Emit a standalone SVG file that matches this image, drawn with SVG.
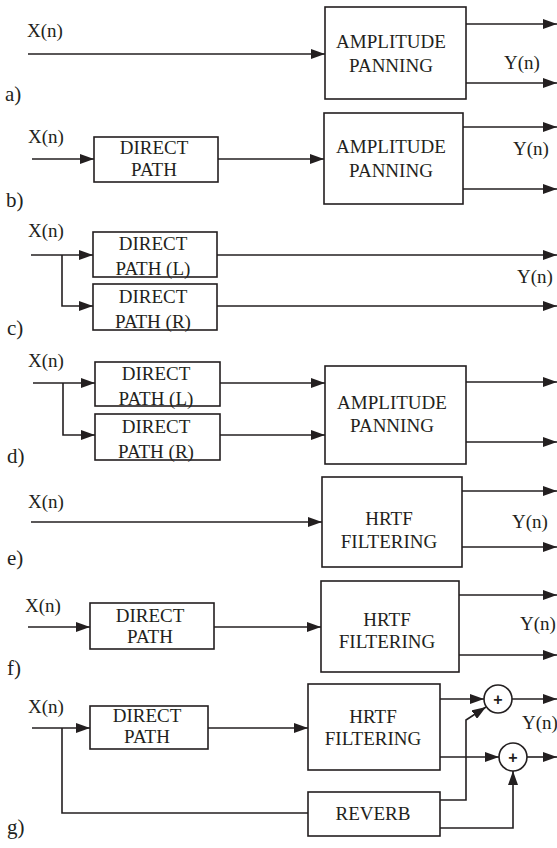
<svg xmlns="http://www.w3.org/2000/svg" width="557" height="848" viewBox="0 0 557 848">
<defs>
<marker id="arr" markerUnits="userSpaceOnUse" markerWidth="14" markerHeight="10" refX="14" refY="5" orient="auto">
<path d="M0,0 L14,5 L0,10 z" fill="#231f20"/>
</marker>
<style>
.box{fill:#fff;stroke:#231f20;stroke-width:1.6}
.ln{fill:none;stroke:#231f20;stroke-width:1.6}
.ar{marker-end:url(#arr)}
.t{font-family:"Liberation Serif","Times New Roman",serif;font-size:19px;fill:#231f20;text-anchor:middle}
.lb{font-family:"Liberation Serif","Times New Roman",serif;font-size:19px;fill:#231f20}
.sec{font-family:"Liberation Serif","Times New Roman",serif;font-size:21px;fill:#231f20}
.plus{font-family:"Liberation Sans",Arial,sans-serif;font-size:16px;fill:#231f20;text-anchor:middle;font-weight:bold}
</style>
</defs>
<rect width="557" height="848" fill="#fff"/>

<g id="connectors">
<line class="ln ar" x1="28" y1="54" x2="325" y2="54"/>
<line class="ln ar" x1="466" y1="24" x2="557" y2="24"/>
<line class="ln ar" x1="466" y1="83" x2="557" y2="83"/>

<line class="ln ar" x1="32" y1="159" x2="94" y2="159"/>
<line class="ln ar" x1="218" y1="159" x2="324" y2="159"/>
<line class="ln ar" x1="463" y1="127" x2="557" y2="127"/>
<line class="ln ar" x1="463" y1="189" x2="557" y2="189"/>

<line class="ln ar" x1="31" y1="255" x2="93" y2="255"/>
<path class="ln ar" d="M62,255 V306 H93"/>
<line class="ln ar" x1="217" y1="255" x2="557" y2="255"/>
<line class="ln ar" x1="217" y1="306" x2="557" y2="306"/>

<line class="ln ar" x1="33" y1="383" x2="95" y2="383"/>
<path class="ln ar" d="M63,383 V435 H95"/>
<line class="ln ar" x1="220" y1="383" x2="325" y2="383"/>
<line class="ln ar" x1="220" y1="435" x2="325" y2="435"/>
<line class="ln ar" x1="466" y1="382" x2="557" y2="382"/>
<line class="ln ar" x1="466" y1="442" x2="557" y2="442"/>

<line class="ln ar" x1="31" y1="522" x2="322" y2="522"/>
<line class="ln ar" x1="462" y1="491" x2="557" y2="491"/>
<line class="ln ar" x1="462" y1="547" x2="557" y2="547"/>

<line class="ln ar" x1="28" y1="627" x2="90" y2="627"/>
<line class="ln ar" x1="214" y1="627" x2="321" y2="627"/>
<line class="ln ar" x1="459" y1="595" x2="557" y2="595"/>
<line class="ln ar" x1="459" y1="655" x2="557" y2="655"/>

<line class="ln ar" x1="32" y1="728" x2="90" y2="728"/>
<line class="ln ar" x1="208" y1="728" x2="308" y2="728"/>
<path class="ln" d="M62,728 V813 H308"/>
<line class="ln ar" x1="440" y1="699" x2="484" y2="699"/>
<line class="ln ar" x1="512" y1="699" x2="557" y2="699"/>
<line class="ln ar" x1="440" y1="757" x2="499" y2="757"/>
<line class="ln ar" x1="527" y1="757" x2="557" y2="757"/>
<path class="ln ar" d="M440,800 H466 V720 L486,707"/>
<path class="ln ar" d="M440,828 H513 V771"/>
</g>

<g id="labels">
<text class="lb" x="27" y="37">X(n)</text>
<text class="lb" x="504" y="69">Y(n)</text>
<text class="sec" x="5" y="101">a)</text>
<text class="lb" x="28" y="143">X(n)</text>
<text class="lb" x="513" y="155">Y(n)</text>
<text class="sec" x="6" y="207">b)</text>
<text class="lb" x="28" y="237">X(n)</text>
<text class="lb" x="517" y="283">Y(n)</text>
<text class="sec" x="7" y="335">c)</text>
<text class="lb" x="28" y="367">X(n)</text>
<text class="sec" x="7" y="463">d)</text>
<text class="lb" x="28" y="508">X(n)</text>
<text class="lb" x="512" y="528">Y(n)</text>
<text class="sec" x="7" y="565">e)</text>
<text class="lb" x="25" y="612">X(n)</text>
<text class="lb" x="520" y="630">Y(n)</text>
<text class="sec" x="7" y="675">f)</text>
<text class="lb" x="28" y="713">X(n)</text>
<text class="lb" x="522" y="729">Y(n)</text>
<text class="sec" x="7" y="834">g)</text>
</g>

<g id="a-amp"><rect class="box" x="325" y="7" width="141" height="92"/><text class="t" x="391" y="48">AMPLITUDE</text><text class="t" x="391" y="72">PANNING</text></g>

<g id="b-direct"><rect class="box" x="94" y="137" width="124" height="45"/><text class="t" x="154" y="154">DIRECT</text><text class="t" x="154" y="176">PATH</text></g>
<g id="b-amp"><rect class="box" x="324" y="113" width="139" height="91"/><text class="t" x="391" y="153">AMPLITUDE</text><text class="t" x="391" y="177">PANNING</text></g>

<g id="c-direct-l"><rect class="box" x="93" y="232" width="124" height="45"/><text class="t" x="153" y="250">DIRECT</text><text class="t" x="153" y="275">PATH (L)</text></g>
<g id="c-direct-r"><rect class="box" x="93" y="284" width="124" height="46"/><text class="t" x="153" y="303">DIRECT</text><text class="t" x="153" y="328">PATH (R)</text></g>

<g id="d-direct-l"><rect class="box" x="95" y="362" width="125" height="44"/><text class="t" x="156" y="380">DIRECT</text><text class="t" x="156" y="405">PATH (L)</text></g>
<g id="d-direct-r"><rect class="box" x="95" y="414" width="125" height="46"/><text class="t" x="156" y="433">DIRECT</text><text class="t" x="156" y="458">PATH (R)</text></g>
<g id="d-amp"><rect class="box" x="325" y="366" width="141" height="98"/><text class="t" x="392" y="409">AMPLITUDE</text><text class="t" x="392" y="432">PANNING</text></g>

<g id="e-hrtf"><rect class="box" x="322" y="477" width="140" height="90"/><text class="t" x="389" y="525">HRTF</text><text class="t" x="389" y="548">FILTERING</text></g>

<g id="f-direct"><rect class="box" x="90" y="603" width="124" height="46"/><text class="t" x="150" y="622">DIRECT</text><text class="t" x="150" y="643">PATH</text></g>
<g id="f-hrtf"><rect class="box" x="321" y="581" width="138" height="91"/><text class="t" x="387" y="626">HRTF</text><text class="t" x="387" y="648">FILTERING</text></g>

<g id="g-direct"><rect class="box" x="90" y="706" width="118" height="43"/><text class="t" x="147" y="722">DIRECT</text><text class="t" x="147" y="743">PATH</text></g>
<g id="g-hrtf"><rect class="box" x="308" y="684" width="132" height="86"/><text class="t" x="373" y="723">HRTF</text><text class="t" x="373" y="745">FILTERING</text></g>
<g id="g-reverb"><rect class="box" x="308" y="792" width="132" height="44"/><text class="t" x="373" y="820">REVERB</text></g>
<g id="g-sum1"><circle class="box" cx="498" cy="699" r="14"/><text class="plus" x="498" y="705">+</text></g>
<g id="g-sum2"><circle class="box" cx="513" cy="757" r="14"/><text class="plus" x="513" y="763">+</text></g>
</svg>
